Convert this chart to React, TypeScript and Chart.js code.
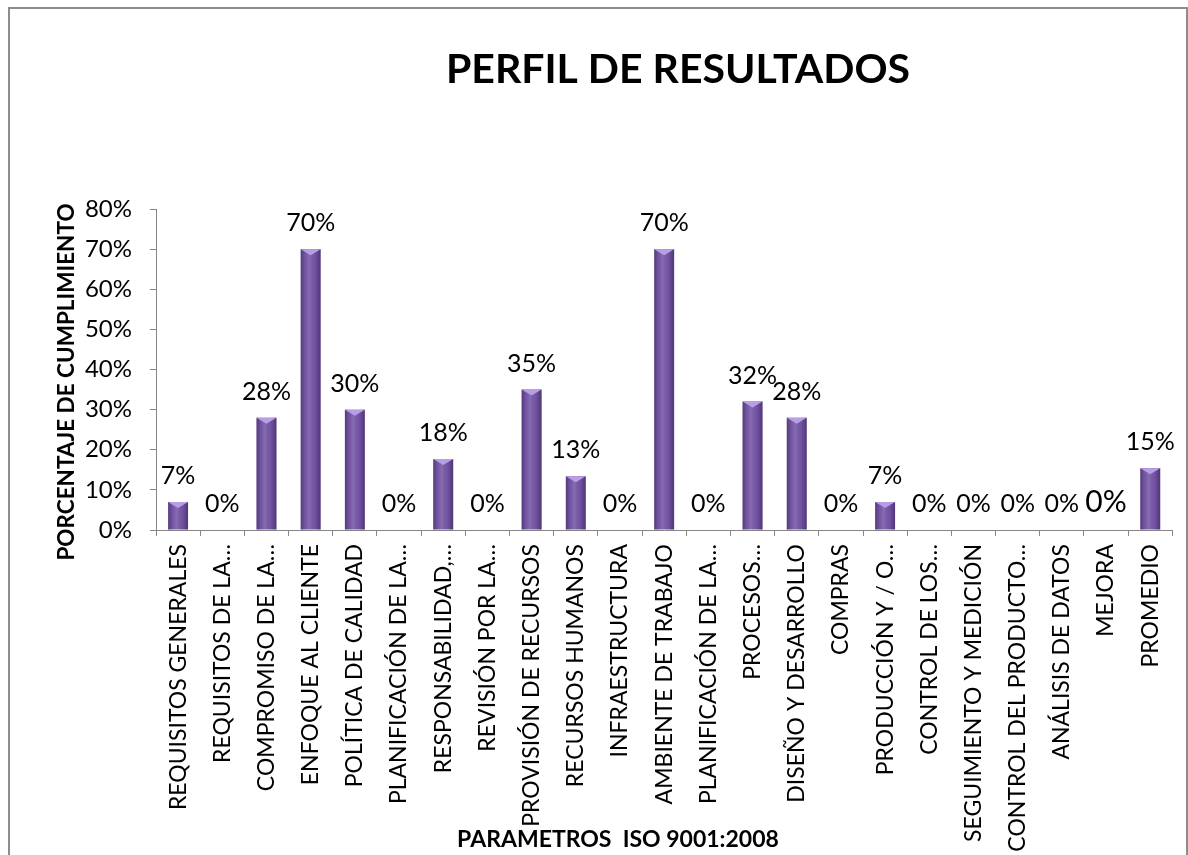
import React, { useEffect, useRef } from "react";
import { Chart, registerables } from "chart.js";

Chart.register(...registerables);

const categories = [
  "REQUISITOS GENERALES",
  "REQUISITOS DE LA…",
  "COMPROMISO DE LA…",
  "ENFOQUE AL CLIENTE",
  "POLÍTICA DE CALIDAD",
  "PLANIFICACIÓN DE LA…",
  "RESPONSABILIDAD,…",
  "REVISIÓN POR LA…",
  "PROVISIÓN DE RECURSOS",
  "RECURSOS HUMANOS",
  "INFRAESTRUCTURA",
  "AMBIENTE DE TRABAJO",
  "PLANIFICACIÓN DE LA…",
  "PROCESOS…",
  "DISEÑO Y DESARROLLO",
  "COMPRAS",
  "PRODUCCIÓN Y / O…",
  "CONTROL DE LOS…",
  "SEGUIMIENTO Y MEDICIÓN",
  "CONTROL DEL PRODUCTO…",
  "ANÁLISIS DE DATOS",
  "MEJORA",
  "PROMEDIO",
];

const values = [
  0.07, 0, 0.28, 0.70, 0.30, 0, 0.177, 0, 0.35, 0.134, 0, 0.70, 0, 0.32,
  0.28, 0, 0.07, 0, 0, 0, 0, 0, 0.154,
];

const valueLabels = [
  "7%", "0%", "28%", "70%", "30%", "0%", "18%", "0%", "35%", "13%", "0%",
  "70%", "0%", "32%", "28%", "0%", "7%", "0%", "0%", "0%", "0%", "0%", "15%",
];

const yTickLabels = ["0%", "10%", "20%", "30%", "40%", "50%", "60%", "70%", "80%"];

const chartTitle = "PERFIL DE RESULTADOS";
const xAxisTitle = "PARAMETROS  ISO 9001:2008";
const yAxisTitle = "PORCENTAJE DE CUMPLIMIENTO";

const FONT = "Lato, 'Open Sans', sans-serif";

const CANVAS_W = 1176;
const CANVAS_H = 846;

export default function App() {
  const canvasRef = useRef<HTMLCanvasElement | null>(null);

  useEffect(() => {
    const canvas = canvasRef.current;
    if (!canvas) return;

    const decorPlugin = {
      id: "decor",
      afterDatasetsDraw(chart: any) {
        const ctx = chart.ctx;
        const meta = chart.getDatasetMeta(0);
        ctx.save();
        meta.data.forEach((bar: any, i: number) => {
          const props = bar.getProps(["x", "y", "base", "width"], true);
          const left = props.x - props.width / 2;
          const right = props.x + props.width / 2;
          const top = Math.min(props.y, props.base);
          const h = Math.abs(props.base - props.y);
          if (h > 0.5) {
            const g = ctx.createLinearGradient(left, 0, right, 0);
            g.addColorStop(0, "rgba(40,20,70,0.45)");
            g.addColorStop(0.18, "rgba(40,20,70,0.1)");
            g.addColorStop(0.42, "rgba(255,255,255,0.12)");
            g.addColorStop(0.7, "rgba(40,20,70,0.05)");
            g.addColorStop(1, "rgba(40,20,70,0.5)");
            ctx.fillStyle = g;
            ctx.fillRect(left, top, props.width, h);
            const capH = Math.min(6, h);
            ctx.fillStyle = "#b89ee4";
            ctx.beginPath();
            ctx.moveTo(left, top);
            ctx.lineTo(right, top);
            ctx.lineTo(props.x, top + capH);
            ctx.closePath();
            ctx.fill();
          }
          const size = categories[i] === "MEJORA" ? 30 : 25;
          ctx.font = `${size}px ${FONT}`;
          ctx.fillStyle = "#000";
          ctx.textAlign = "center";
          ctx.textBaseline = "alphabetic";
          ctx.fillText(valueLabels[i], props.x, props.y - 18);
        });
        ctx.restore();
      },
      afterDraw(chart: any) {
        const ctx = chart.ctx;
        ctx.save();
        ctx.fillStyle = "#000";
        ctx.textAlign = "center";
        ctx.textBaseline = "alphabetic";
        ctx.font = `bold 41px ${FONT}`;
        ctx.fillText(chartTitle, 668, 74);
        ctx.font = `bold 23px ${FONT}`;
        ctx.fillText(xAxisTitle, 608, 838);
        ctx.translate(64, 373);
        ctx.rotate(-Math.PI / 2);
        ctx.font = `bold 22.5px ${FONT}`;
        ctx.fillText(yAxisTitle, 0, 0);
        ctx.restore();
      },
    };

    const chart = new Chart(canvas, {
      type: "bar",
      data: {
        labels: categories,
        datasets: [
          {
            data: values,
            backgroundColor: "#7758a8",
            borderWidth: 0,
            barPercentage: 0.45,
            categoryPercentage: 1,
          },
        ],
      },
      options: {
        responsive: false,
        animation: false,
        devicePixelRatio: 1,
        layout: { padding: { top: 200, right: 7, left: 0, bottom: 0 } },
        plugins: {
          legend: { display: false },
          tooltip: { enabled: false },
          title: { display: false },
        },
        scales: {
          x: {
            grid: {
              display: true,
              drawOnChartArea: false,
              drawTicks: true,
              tickLength: 6,
              color: "#868686",
              offset: true,
            },
            border: { display: true, color: "#868686", width: 1 },
            ticks: {
              autoSkip: false,
              maxRotation: 90,
              minRotation: 90,
              padding: 8,
              color: "#000",
              font: { family: FONT, size: 23 },
            },
            afterFit(scale: any) {
              scale.height = 325;
            },
          },
          y: {
            min: 0,
            max: 0.8,
            grid: {
              display: true,
              drawOnChartArea: false,
              drawTicks: true,
              tickLength: 6,
              color: "#868686",
            },
            border: { display: true, color: "#868686", width: 1 },
            ticks: {
              stepSize: 0.1,
              padding: 18,
              color: "#000",
              font: { family: FONT, size: 24 },
              callback: (_v: any, idx: number) => yTickLabels[idx],
            },
            afterFit(scale: any) {
              scale.width = 146;
            },
          },
        },
      },
      plugins: [decorPlugin],
    });

    return () => chart.destroy();
  }, []);

  return (
    <div
      style={{
        position: "absolute",
        left: 8,
        top: 7,
        width: CANVAS_W,
        height: CANVAS_H + 2,
        borderTop: "2px solid #8c8c8c",
        borderLeft: "2px solid #8c8c8c",
        borderRight: "2px solid #8c8c8c",
        background: "#fff",
        overflow: "hidden",
      }}
    >
      <canvas
        ref={canvasRef}
        width={CANVAS_W}
        height={CANVAS_H}
        style={{ display: "block", width: CANVAS_W, height: CANVAS_H }}
      />
    </div>
  );
}
